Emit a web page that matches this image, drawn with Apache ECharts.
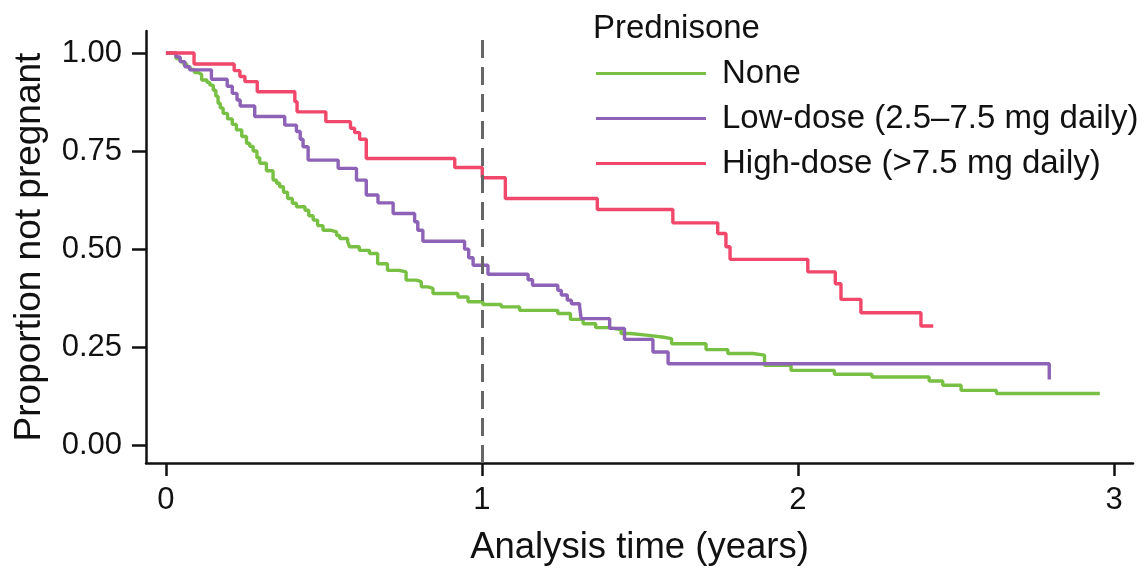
<!DOCTYPE html>
<html>
<head>
<meta charset="utf-8">
<script src="https://cdn.jsdelivr.net/npm/echarts@6/dist/echarts.min.js"></script>
<style>html,body{margin:0;padding:0;background:#fff;}#c{width:1147px;height:568px;}</style>
</head>
<body>
<div id="c"></div>
<script>
// ---- data ----
const seriesNames = ['None', 'Low-dose (2.5\u20137.5 mg daily)', 'High-dose (>7.5 mg daily)'];
const xTicks = [0, 1, 2, 3];
const yTicks = [0, 0.25, 0.5, 0.75, 1];

// [time (years), proportion not pregnant]; value holds from time onward
const noneCurve = [
  [0,1.0],[0.032,0.986],[0.045,0.978],[0.055,0.972],[0.066,0.965],[0.076,0.958],[0.09,0.950],[0.102,0.945],
  [0.113,0.931],[0.13,0.925],[0.139,0.918],[0.150,0.905],[0.158,0.890],[0.165,0.872],[0.172,0.860],[0.181,0.846],
  [0.195,0.832],[0.210,0.818],[0.223,0.804],[0.24,0.787],[0.255,0.770],[0.265,0.762],[0.276,0.750],[0.288,0.733],
  [0.297,0.719],[0.318,0.700],[0.339,0.676],[0.350,0.668],[0.360,0.659],[0.372,0.645],[0.385,0.629],[0.400,0.617],
  [0.413,0.608],[0.440,0.599],[0.452,0.585],[0.466,0.574],[0.48,0.560],[0.497,0.548],[0.523,0.544],[0.54,0.535],
  [0.550,0.527],[0.575,0.519],[0.581,0.506],[0.612,0.497],[0.644,0.489],[0.67,0.463],[0.701,0.446],[0.738,0.442],
  [0.76,0.421],[0.792,0.417],[0.808,0.404],[0.829,0.400],[0.845,0.387],[0.924,0.378],[0.956,0.366],[1.003,0.359],
  [1.061,0.353],[1.119,0.344],[1.24,0.336],[1.28,0.321],[1.32,0.310],[1.36,0.300],[1.40,0.295],[1.44,0.285],
  [1.47,0.281],[1.52,0.276],[1.57,0.272],[1.60,0.259],[1.709,0.244],[1.778,0.234],[1.857,0.230],[1.894,0.204],
  [1.978,0.191],[2.115,0.181],[2.234,0.174],[2.415,0.164],[2.458,0.153],[2.516,0.140],[2.628,0.132],[2.955,0.132]
];
const lowCurve = [
  [0,1.0],[0.032,0.99],[0.045,0.978],[0.06,0.965],[0.075,0.957],[0.144,0.933],[0.194,0.915],[0.21,0.897],
  [0.225,0.880],[0.235,0.865],[0.281,0.838],[0.376,0.816],[0.413,0.80],[0.425,0.78],[0.434,0.761],[0.45,0.727],
  [0.545,0.706],[0.603,0.676],[0.634,0.638],[0.671,0.618],[0.719,0.591],[0.787,0.570],[0.797,0.548],[0.813,0.520],
  [0.945,0.50],[0.958,0.478],[0.972,0.459],[1.019,0.436],[1.146,0.422],[1.16,0.408],[1.24,0.395],[1.251,0.383],
  [1.27,0.37],[1.283,0.361],[1.309,0.353],[1.314,0.323],[1.404,0.298],[1.451,0.270],[1.541,0.238],[1.589,0.208],
  [2.795,0.168]
];
const highCurve = [
  [0,1.0],[0.089,0.972],[0.216,0.955],[0.234,0.940],[0.25,0.927],[0.289,0.901],[0.408,0.876],[0.415,0.850],
  [0.506,0.825],[0.584,0.808],[0.597,0.797],[0.613,0.780],[0.634,0.731],[0.914,0.708],[1.001,0.682],[1.074,0.629],
  [1.365,0.601],[1.604,0.567],[1.746,0.540],[1.772,0.506],[1.785,0.474],[2.031,0.442],[2.118,0.412],[2.136,0.372],
  [2.199,0.338],[2.389,0.304],[2.428,0.304]
];
const refLineX = 1;

// ---- chart ----
const FONT = "'Liberation Sans', Arial, Helvetica, sans-serif";
const TXT = '#111';
const colors = ['#78c043', '#8d62b7', '#f0476b'];
const chart = echarts.init(document.getElementById('c'), null, {renderer: 'canvas'});

function mkSeries(name, data, color, extra) {
  return Object.assign({
    name: name, type: 'line', step: 'end', data: data,
    symbol: 'none', showSymbol: false, smooth: false,
    lineStyle: {color: color, width: 3.4}, itemStyle: {color: color},
    emphasis: {disabled: true}, animation: false, z: 3
  }, extra || {});
}

chart.setOption({
  animation: false,
  textStyle: {fontFamily: FONT},
  title: {
    text: 'Prednisone', left: 588, top: 7,
    textStyle: {fontFamily: FONT, fontSize: 33, fontWeight: 'normal', color: TXT}
  },
  legend: {
    data: seriesNames, orient: 'vertical', left: 591, top: 52,
    icon: 'rect', itemWidth: 110, itemHeight: 3, itemGap: 12,
    textStyle: {fontFamily: FONT, fontSize: 33, color: TXT, lineHeight: 32, padding: [0, 0, 0, 11]},
    selectedMode: false
  },
  grid: {left: 146, right: 14, top: 31, bottom: 105, containLabel: false, outerBoundsMode: 'none'},
  xAxis: {
    type: 'value', min: -0.063, max: 3.06,
    name: 'Analysis time (years)', nameLocation: 'middle', nameGap: 66,
    nameTextStyle: {fontFamily: FONT, fontSize: 36.5, color: TXT},
    axisLine: {show: true, onZero: false, lineStyle: {color: '#111', width: 2.5}},
    axisTick: {show: true, inside: false, length: 13, customValues: xTicks, lineStyle: {color: '#111', width: 2.5}},
    axisLabel: {show: true, margin: 22, customValues: xTicks, fontFamily: FONT, fontSize: 31, color: TXT,
      formatter: v => String(v)},
    splitLine: {show: false}
  },
  yAxis: {
    type: 'value', min: -0.045, max: 1.056,
    name: 'Proportion not pregnant', nameLocation: 'middle', nameGap: 98,
    nameTextStyle: {fontFamily: FONT, fontSize: 37, color: TXT},
    axisLine: {show: true, onZero: false, lineStyle: {color: '#111', width: 2.5}},
    axisTick: {show: true, inside: false, length: 14, customValues: yTicks, lineStyle: {color: '#111', width: 2.5}},
    axisLabel: {show: true, margin: 24, customValues: yTicks, fontFamily: FONT, fontSize: 31, color: TXT,
      formatter: v => v.toFixed(2)},
    splitLine: {show: false}
  },
  series: [
    mkSeries(seriesNames[0], noneCurve, colors[0], {
      markLine: {
        silent: true, symbol: ['none', 'none'], label: {show: false},
        lineStyle: {color: '#666', width: 3, type: [18, 9]},
        emphasis: {disabled: true},
        data: [{xAxis: refLineX}]
      }
    }),
    mkSeries(seriesNames[1], lowCurve, colors[1]),
    mkSeries(seriesNames[2], highCurve, colors[2])
  ]
});
</script>
</body>
</html>
